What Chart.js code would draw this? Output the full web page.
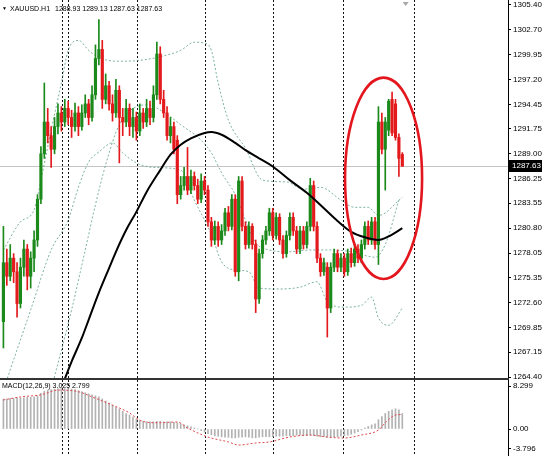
<!DOCTYPE html>
<html>
<head>
<meta charset="utf-8">
<script src="https://cdn.jsdelivr.net/npm/chart.js@4.4.1/dist/chart.umd.min.js"></script>
<style>
html, body { margin: 0; padding: 0; background: #fff; }
#wrap { position: relative; width: 542px; height: 456px; overflow: hidden; font-family: "Liberation Sans", Arial, sans-serif; }
#main { position: absolute; left: 0; top: 0; }
#macd { position: absolute; left: 0; top: 380px; }
.lbl { position: absolute; font-size: 7px; line-height: 9px; color: #000; white-space: pre; }
</style>
</head>
<body>
<div id="wrap">
  <canvas id="main" width="542" height="380"></canvas>
  <canvas id="macd" width="542" height="76"></canvas>
  <div class="lbl" style="left:2px;top:4px;font-size:5px">▼</div>
  <div class="lbl" style="left:10px;top:4px">XAUUSD.H1</div>
  <div class="lbl" style="left:55px;top:4px">1288.93 1289.13 1287.63 1287.63</div>
  <div class="lbl" style="left:2px;top:381px">MACD(12,26,9) 3.025 2.799</div>
</div>
<script>
// H1 candles
const opens = [1270.5,1277.0,1275.5,1277.5,1276.0,1272.5,1276.5,1278.5,1275.5,1277.5,
  1279.5,1284.0,1289.0,1292.5,1291.0,1289.5,1292.0,1293.5,1292.5,1294.0,
  1293.0,1292.0,1293.5,1292.0,1293.5,1294.5,1293.0,1295.5,1299.5,1300.5,
  1295.0,1296.5,1294.5,1293.5,1296.0,1293.0,1292.5,1294.0,1292.0,1293.0,
  1291.5,1293.5,1292.5,1294.0,1293.0,1295.5,1300.0,1295.0,1293.5,1291.0,
  1292.0,1290.5,1284.5,1285.5,1286.5,1285.0,1286.5,1285.5,1284.0,1286.0,
  1285.0,1281.5,1279.5,1281.0,1279.5,1280.5,1282.5,1281.0,1284.0,1276.0,
  1286.0,1281.0,1279.0,1281.0,1279.0,1273.0,1278.0,1279.5,1280.5,1282.5,
  1280.0,1282.0,1279.5,1278.0,1280.0,1282.0,1280.5,1278.5,1280.5,1279.0,
  1281.0,1285.5,1281.0,1277.5,1276.0,1276.5,1272.0,1276.5,1278.0,1276.5,
  1277.5,1276.0,1278.0,1277.0,1278.5,1277.5,1279.0,1281.0,1279.5,1281.5,
  1279.0,1292.5,1289.5,1291.6,1295.0,1294.5,1290.8,1288.93];
const highs = [1281.0,1278.5,1279.0,1278.0,1277.0,1277.5,1279.5,1279.0,1278.2,1280.5,
  1284.5,1289.8,1296.8,1294.0,1292.0,1293.0,1294.5,1294.2,1295.0,1294.8,
  1293.8,1294.6,1294.2,1294.4,1295.5,1295.0,1296.5,1301.0,1303.8,1301.5,
  1297.8,1297.0,1295.5,1297.2,1296.5,1294.0,1295.0,1294.5,1294.0,1293.6,
  1294.5,1294.0,1295.0,1294.8,1296.5,1301.3,1300.8,1296.0,1294.2,1293.0,
  1292.5,1291.0,1286.5,1287.5,1289.7,1287.2,1287.0,1286.2,1286.8,1286.5,
  1285.5,1282.0,1281.6,1281.5,1281.2,1283.0,1283.2,1284.5,1284.5,1286.5,
  1286.5,1281.5,1281.5,1281.3,1279.5,1278.5,1280.0,1281.0,1283.0,1283.0,
  1282.5,1282.4,1280.0,1280.5,1282.5,1282.5,1281.0,1281.0,1281.0,1281.5,
  1286.3,1286.0,1281.5,1278.0,1277.5,1277.0,1277.0,1278.5,1278.4,1278.0,
  1278.0,1278.5,1278.6,1279.0,1279.0,1279.5,1281.5,1281.6,1282.0,1282.0,
  1294.2,1293.5,1293.0,1295.0,1295.8,1295.0,1291.2,1289.13];
const lows = [1267.6,1274.5,1275.0,1274.8,1271.0,1272.0,1275.5,1274.0,1274.2,1276.0,
  1278.8,1283.5,1288.5,1290.2,1287.5,1289.0,1291.2,1291.5,1292.0,1292.2,
  1290.8,1291.5,1291.0,1291.6,1293.0,1292.2,1292.6,1295.0,1298.8,1294.0,
  1294.5,1293.8,1292.6,1293.0,1288.0,1291.0,1292.0,1291.0,1290.8,1290.5,
  1291.0,1291.8,1292.0,1292.2,1292.5,1295.0,1294.5,1293.0,1290.5,1290.2,
  1289.0,1283.5,1284.0,1285.0,1284.5,1284.6,1285.0,1283.5,1283.6,1284.5,
  1281.0,1278.8,1279.0,1278.8,1279.0,1280.0,1280.5,1280.6,1275.5,1275.0,
  1280.5,1278.5,1278.6,1278.5,1271.5,1272.5,1277.5,1279.0,1280.0,1279.5,
  1279.6,1279.0,1277.5,1277.6,1279.5,1280.0,1278.0,1278.0,1278.5,1278.6,
  1280.5,1280.5,1277.0,1275.5,1275.6,1268.8,1271.5,1276.0,1276.0,1276.0,
  1275.5,1275.6,1276.5,1276.6,1277.0,1277.0,1278.5,1279.0,1279.0,1278.5,
  1276.8,1289.0,1285.0,1291.0,1291.0,1290.5,1286.5,1287.63];
const closes = [1277.0,1275.5,1277.5,1276.0,1272.5,1276.5,1278.5,1275.5,1277.5,1279.5,
  1284.0,1289.0,1292.5,1291.0,1289.5,1292.0,1293.5,1292.5,1294.0,1293.0,
  1292.0,1293.5,1292.0,1293.5,1294.5,1293.0,1295.5,1299.5,1300.5,1295.0,
  1296.5,1294.5,1293.5,1296.0,1293.0,1292.5,1294.0,1292.0,1293.0,1291.5,
  1293.5,1292.5,1294.0,1293.0,1295.5,1300.0,1295.0,1293.5,1291.0,1292.0,
  1289.5,1284.5,1285.5,1286.5,1285.0,1286.5,1285.5,1284.0,1286.0,1285.0,
  1281.5,1279.5,1281.0,1279.5,1280.5,1282.5,1281.0,1284.0,1276.0,1286.0,
  1281.0,1279.0,1281.0,1279.0,1273.0,1278.0,1279.5,1280.5,1282.5,1280.0,
  1282.0,1279.5,1278.0,1280.0,1282.0,1280.5,1278.5,1280.5,1279.0,1281.0,
  1285.5,1281.0,1277.5,1276.0,1277.0,1272.0,1276.5,1278.0,1276.5,1277.5,
  1276.0,1278.0,1277.0,1278.5,1277.5,1279.0,1281.0,1279.5,1281.5,1279.0,
  1292.5,1289.5,1292.5,1294.8,1291.3,1290.8,1288.5,1287.63];

// moving average (black), sampled where it was read
const maIdx = [18,20,23,25,28,31,33,36,39,42,46,49,52,55,59,61,64,68,71,75,79,84,89,94,98,102,106,110,113,117];
const maVal = [1264.2,1266.1,1268.7,1270.7,1273.7,1276.4,1278.2,1280.6,1282.6,1284.8,1287.2,1288.9,1290.0,1290.7,1291.3,1291.4,1291.1,1290.2,1289.4,1288.5,1287.6,1286.1,1284.7,1283.0,1281.6,1280.4,1279.8,1279.5,1279.9,1280.8];

// dotted band lines
const bandAIdx = [0,5,9,11,14,17,19,22,25,28,34,40,46,52,56,59,61,63,66,71,76,83,88,93,99,103,107,110,117];
const bandAVal = [1278.4,1281.5,1282.8,1286.1,1291.6,1296.8,1300.4,1301.5,1300.4,1299.6,1299.2,1299.3,1299.7,1300.4,1301.3,1301.2,1300.4,1296.8,1292.7,1289.6,1286.1,1285.9,1285.1,1285.3,1283.9,1283.1,1283.1,1282.2,1284.2];
const bandBIdx = [0,8,14,19,22,25,28,32,35,39,44,52,56,61,64,68,72,75,81,87,92,95,100,105,108,110,113,117];
const bandBVal = [1263.0,1271.8,1278.4,1281.7,1285.3,1288.1,1289.2,1290.2,1289.1,1288.0,1287.5,1287.2,1283.9,1280.1,1277.1,1276.2,1276.0,1274.2,1274.1,1274.3,1274.9,1272.7,1272.1,1272.3,1273.2,1270.9,1270.1,1272.0];
const bandCIdx = [14,20,24,27,30,34,42,47,52,58,61,64,68,71,74,78,84,90,96,102,106,109,112,116];
const bandCVal = [1263.0,1271.8,1278.4,1283.4,1287.8,1292.2,1294.4,1293.6,1292.2,1290.5,1289.1,1286.9,1284.5,1281.7,1279.2,1278.4,1278.2,1278.4,1278.4,1278.2,1277.8,1277.6,1279.0,1283.9];

// MACD(12,26,9): main values (bars) and signal (dotted)
const macdVal = [5.8,5.8,5.9,5.9,6.0,6.0,6.0,6.1,6.1,6.2,6.4,
  6.9,7.3,7.5,7.6,7.7,7.8,7.8,7.8,7.8,7.7,7.6,
  7.4,7.2,7.0,6.8,6.6,6.4,6.2,
  5.8,5.4,5.0,4.6,4.2,3.8,3.4,3.0,2.7,2.3,
  1.9,1.6,1.5,1.4,1.4,1.4,1.5,1.5,1.4,1.4,1.4,1.3,1.2,1.0,
  0.8,0.6,0.4,0.2,0.0,-0.3,
  -0.6,-0.9,-1.1,-1.3,-1.4,-1.5,-1.6,-1.6,-1.7,-1.7,-1.6,-1.6,-1.5,-1.6,-1.7,-1.7,-1.6,-1.5,-1.5,-1.5,
  -1.5,-1.4,-1.4,-1.4,-1.3,-1.3,-1.3,-1.2,-1.2,-1.3,-1.3,-1.2,-1.3,-1.4,-1.5,-1.5,-1.6,-1.6,-1.5,-1.5,-1.4,
  -1.3,-1.2,-1.0,-0.8,-0.5,-0.2,0.2,0.5,
  0.8,1.0,1.8,2.4,3.0,3.4,3.7,3.9,3.7,3.0];
const sigIdx = [0,5,11,16,22,26,32,37,40,45,51,54,60,66,69,74,78,84,90,95,100,105,110,112,115,117];
const sigVal = [5.6,6.2,6.6,7.5,7.2,6.2,4.6,3.1,1.7,1.2,1.35,0.2,-1.55,-2.5,-3.1,-2.7,-2.5,-1.55,-1.16,-1.55,-1.74,-1.16,-0.2,1.2,2.7,2.8];

// axis labels and period separators (bar positions)
const priceTicks = [1305.40,1302.70,1299.95,1297.20,1294.45,1291.75,1289.00,1286.25,1283.55,1280.80,1278.05,1275.35,1272.60,1269.85,1267.15,1264.40];
const macdTicks = [8.299, 0, -3.796];
const separators = [17.2, 19.0, 39.2, 59.1, 79.2, 99.6, 120.3];
const ring = { x: 111.5, y: 1286.3, rx: 11.3, ry: 11.1 };

const GREEN = '#1b8a1b', RED = '#e3191c', BAND = 'rgba(80,155,120,0.75)';
const N = closes.length;
const idx = closes.map((_, i) => i);
const colors = idx.map(i => closes[i] >= opens[i] ? GREEN : RED);
const pts = (xs, ys) => xs.map((x, i) => ({ x, y: ys[i] }));
const X_MIN = -1, X_MAX = 148;

const separatorPlugin = {
  id: 'seps',
  beforeDatasetsDraw(chart) {
    const { ctx, chartArea: a, scales: { x } } = chart;
    ctx.save();
    ctx.strokeStyle = '#111';
    ctx.lineWidth = 1;
    ctx.setLineDash([2, 2]);
    separators.forEach(s => {
      const px = Math.round(x.getPixelForValue(s)) + 0.5;
      ctx.beginPath(); ctx.moveTo(px, a.top); ctx.lineTo(px, a.bottom); ctx.stroke();
    });
    ctx.restore();
  }
};

const mainPlugin = {
  id: 'mainDeco',
  beforeDatasetsDraw(chart) {
    const { ctx, chartArea: a, scales: { y } } = chart;
    const py = Math.round(y.getPixelForValue(closes[N - 1])) + 0.5;
    ctx.save();
    ctx.strokeStyle = '#c4c4c4';
    ctx.lineWidth = 1;
    ctx.beginPath(); ctx.moveTo(a.left, py); ctx.lineTo(a.right, py); ctx.stroke();
    ctx.restore();
  },
  afterDraw(chart) {
    const { ctx, chartArea: a, scales: { x, y } } = chart;
    ctx.save();
    // highlight ring
    const cx = x.getPixelForValue(ring.x), cy = y.getPixelForValue(ring.y);
    const rx = Math.abs(x.getPixelForValue(ring.x + ring.rx) - cx);
    const ry = Math.abs(y.getPixelForValue(ring.y + ring.ry) - cy);
    ctx.strokeStyle = '#e3161e';
    ctx.lineWidth = 2.6;
    ctx.beginPath(); ctx.ellipse(cx, cy, rx, ry, 0, 0, Math.PI * 2); ctx.stroke();
    // panel divider
    ctx.fillStyle = '#333';
    ctx.fillRect(0, a.bottom - 2, a.right + 1, 2);
    // shift marker
    const sx = x.getPixelForValue(N);
    ctx.fillStyle = '#a9a9a9';
    ctx.beginPath(); ctx.moveTo(sx - 3, 2); ctx.lineTo(sx + 3, 2); ctx.lineTo(sx, 6); ctx.fill();
    // last price box
    const py = y.getPixelForValue(closes[N - 1]);
    ctx.fillStyle = '#000';
    ctx.fillRect(a.right + 1, Math.round(py) - 6, 34, 12);
    ctx.fillStyle = '#fff';
    ctx.font = '8px "Liberation Sans", Arial, sans-serif';
    ctx.textBaseline = 'middle';
    ctx.fillText(closes[N - 1].toFixed(2), a.right + 4, Math.round(py));
    ctx.restore();
  }
};

const axisFont = { family: '"Liberation Sans", Arial, sans-serif', size: 8 };
const rightAxis = (min, max, ticks, fmt) => ({
  position: 'right', min, max,
  afterFit: s => { s.width = 34; s.paddingTop = 0; s.paddingBottom = 0; },
  afterBuildTicks: s => { s.ticks = ticks.map(v => ({ value: v })); },
  ticks: { autoSkip: false, font: axisFont, color: '#000', padding: 2, callback: fmt },
  grid: { drawOnChartArea: false, drawTicks: true, tickLength: 3, color: '#000' },
  border: { display: true, color: '#000', width: 1 }
});
const xAxis = { type: 'linear', min: X_MIN, max: X_MAX, offset: false, display: false };
const baseOpts = {
  responsive: false, animation: false, events: [],
  layout: { padding: 0 },
  plugins: { legend: { display: false }, tooltip: { enabled: false } }
};
const band = (xs, ys) => ({
  type: 'line', data: pts(xs, ys), borderColor: BAND, borderWidth: 1, borderDash: [2, 2],
  pointRadius: 0, cubicInterpolationMode: 'monotone', order: 6
});

new Chart(document.getElementById('main'), {
  type: 'bar',
  data: {
    datasets: [
      { type: 'line', data: pts(maIdx, maVal), borderColor: '#000', borderWidth: 2, pointRadius: 0,
        cubicInterpolationMode: 'monotone', order: 1 },
      { type: 'bar', data: idx.map(i => ({ x: i, y: [opens[i], closes[i]] })), backgroundColor: colors,
        barThickness: 2.5, minBarLength: 1, grouped: false, order: 3 },
      { type: 'bar', data: idx.map(i => ({ x: i, y: [lows[i], highs[i]] })), backgroundColor: colors,
        barThickness: 1, grouped: false, order: 4 },
      band(bandAIdx, bandAVal),
      band(bandBIdx, bandBVal),
      band(bandCIdx, bandCVal)
    ]
  },
  options: Object.assign({}, baseOpts, {
    scales: {
      x: xAxis,
      y: rightAxis(1264.07, 1305.95, priceTicks, v => Number(v).toFixed(2))
    }
  }),
  plugins: [separatorPlugin, mainPlugin]
});

new Chart(document.getElementById('macd'), {
  type: 'bar',
  data: {
    datasets: [
      { type: 'line', data: pts(sigIdx, sigVal), borderColor: '#e0464b', borderWidth: 1, borderDash: [2, 2],
        pointRadius: 0, cubicInterpolationMode: 'monotone', order: 1 },
      { type: 'bar', data: idx.map(i => ({ x: i, y: macdVal[i] })), backgroundColor: '#b2b2b2',
        barThickness: 1, grouped: false, order: 2 }
    ]
  },
  options: Object.assign({}, baseOpts, {
    scales: {
      x: xAxis,
      y: rightAxis(-5.21, 9.457, macdTicks, v => v === 0 ? '0.00' : String(v))
    }
  }),
  plugins: [separatorPlugin]
});
</script>
</body>
</html>
